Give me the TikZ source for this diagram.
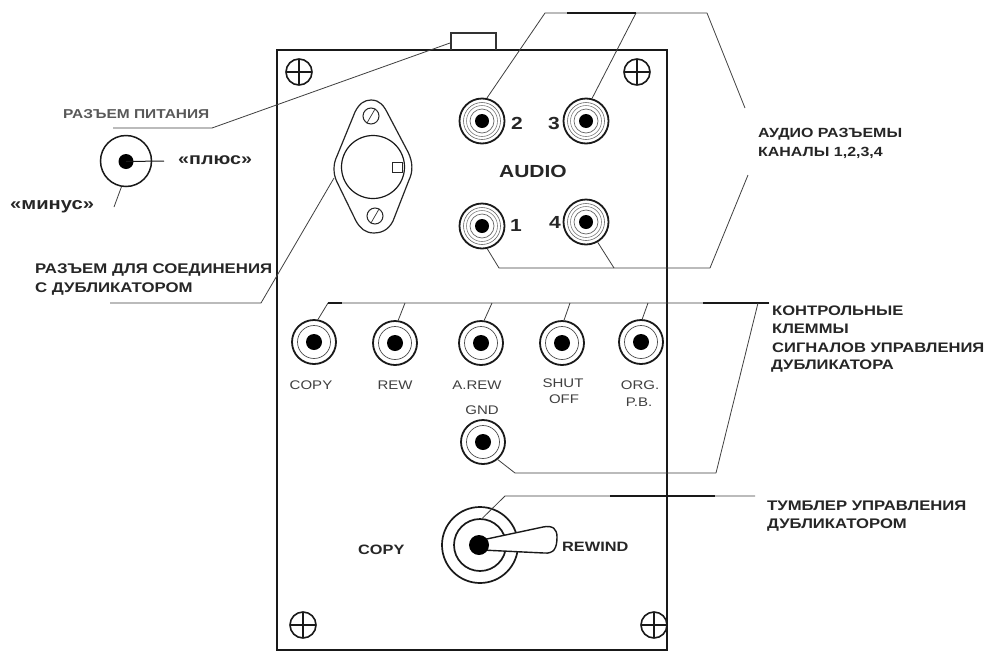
\documentclass[tikz,border=0pt]{standalone}
\usepackage{fontspec}
\setmainfont{Liberation Sans}
\newfontfamily\widef[FakeStretch=1.2]{Liberation Sans}
\newcommand{\fz}[1]{\fontsize{#1}{#1}\selectfont}
\tikzset{
  x=1pt,y=-1pt,
  panelline/.style={draw=black!90,line width=2.5pt},
  leader/.style={draw=black!75,line width=0.8pt,line join=round},
  heavy/.style={draw=black!90,line width=1.5pt},
  lab/.style={anchor=west,inner sep=0pt,font=\widef\bfseries\fz{13.3},text=black!85},
  tiny/.style={inner sep=0pt,font=\widef\fz{12.5},text=black!75},
  num/.style={inner sep=0pt,font=\widef\bfseries\fz{17.5},text=black!85},
  ring/.style={circle,inner sep=0pt,minimum size=45pt,draw=black!90,line width=1.8pt},
  jack/.style={circle,inner sep=0pt,minimum size=44pt,draw=black!90,line width=1.8pt},
}
\newcommand{\audiojack}[3]{%
  \node[ring] (#1) at (#2,#3) {};
  \draw[black!60,line width=0.6pt] (#2,#3) circle[radius=18.5];
  \draw[black!50,line width=0.6pt] (#2,#3) circle[radius=15.5];
  \draw[black!60,line width=0.7pt] (#2,#3) circle[radius=12];
  \fill[black] (#2,#3) circle[radius=7];
}
\newcommand{\ctljack}[3]{%
  \node[jack] (#1) at (#2,#3) {};
  \draw[black!70,line width=0.7pt] (#2,#3) circle[radius=16.5];
  \fill[black] (#2,#3) circle[radius=8];
}
\newcommand{\screw}[3]{%
  \node[circle,inner sep=0pt,minimum size=26pt,draw=black!90,line width=1.6pt] (#1) at (#2,#3) {};
  \draw[black!90,line width=1.2pt] ([xshift=2pt]#1.west) -- ([xshift=-2pt]#1.east) ([yshift=-2pt]#1.north) -- ([yshift=2pt]#1.south);
}
\begin{document}
\begin{tikzpicture}
\useasboundingbox (0,0) rectangle (990,651);
\fill[white] (0,0) rectangle (990,651);

% panel and tab
\coordinate (pTL) at (277,50); \coordinate (pTR) at (667,50);
\coordinate (pBL) at (277,650); \coordinate (pBR) at (667,650);
\draw[panelline] (pBL) -- (pTL) -- (pTR) -- (pBR) -- cycle;
\coordinate (tabA) at (451,50); \coordinate (tabB) at (451,33);
\coordinate (tabC) at (496,33); \coordinate (tabD) at (496,50);
\draw[draw=black!80,line width=1.2pt] (tabA) -- (tabB) -- (tabC) -- (tabD);

% screws
\screw{s1}{299}{72}
\screw{s2}{637}{72}
\screw{s3}{303}{625}
\screw{s4}{654}{625}

% power plug
\node[circle,inner sep=0pt,minimum size=51pt,draw=black!90,line width=1.5pt] (plug) at (126,161) {};
\node[circle,fill=black,inner sep=0pt,minimum size=15pt] (plugpin) at (126,161.5) {};
\coordinate (plusend) at (164,161);
\coordinate (minusend) at (114,207);
\draw[black!90,line width=1pt] (plugpin.center) -- (plusend);
\draw[leader] (plug.260) -- (minusend);
\node[lab,font=\widef\bfseries\fz{16.4}] (tplus) at (178,160) {«плюс»};
\node[lab,font=\widef\bfseries\fz{16.8}] (tminus) at (10,207) {«минус»};
\node[lab,font=\widef\bfseries\fz{12.9},text=black!65] (tpower) at (63,114) {РАЗЪЕМ ПИТАНИЯ};
\coordinate (pw0) at (450,43); \coordinate (pw1) at (212,128); \coordinate (pw2) at (113,128);
\draw[leader] (pw0) -- (pw1) -- (pw2);

% multi-pin connector
\draw[black!85,line width=1.2pt] (371,100) .. controls (380,100) and (384,106) .. (388,114)
  -- (408,152) .. controls (413,162) and (413,172) .. (409,180)
  -- (393,221) .. controls (388,231) and (380,233) .. (374,233)
  .. controls (365,233) and (360,228) .. (356,221)
  -- (337,182) .. controls (333,174) and (333,164) .. (337,156)
  -- (355,112) .. controls (359,104) and (364,100) .. (371,100) -- cycle;
\node[circle,inner sep=0pt,minimum size=63pt,draw=black!90,line width=1.2pt] (dub) at (373,167) {};
\node[draw=black!85,line width=0.9pt,fill=white,inner sep=0pt,minimum size=10pt] (dubkey) at (397,167) {};
\node[circle,inner sep=0pt,minimum size=16pt,draw=black!85,line width=1pt] (dubs1) at (371,116) {};
\node[circle,inner sep=0pt,minimum size=16pt,draw=black!85,line width=1pt] (dubs2) at (375,216) {};
\draw[black!80,line width=0.7pt] (dubs1.60) -- (dubs1.240) (dubs2.60) -- (dubs2.240);
\coordinate (dl0) at (334,178); \coordinate (dl1) at (261,303); \coordinate (dl2) at (110,303);
\draw[leader] (dl0) -- (dl1) -- (dl2);
\node[lab,font=\widef\bfseries\fz{14}] (tdub1) at (35,270) {РАЗЪЕМ ДЛЯ СОЕДИНЕНИЯ};
\node[lab,font=\widef\bfseries\fz{14}] (tdub2) at (35,289) {С ДУБЛИКАТОРОМ};

% audio jacks
\audiojack{a2}{482}{121}
\audiojack{a3}{586}{121}
\audiojack{a1}{482}{226}
\audiojack{a4}{586}{222}
\node[num] (n2) at (517,123) {2};
\node[num] (n3) at (554,123) {3};
\node[num] (n1) at (516,225) {1};
\node[num] (n4) at (555,222) {4};
\node[num] (taudio) at (533,171) {AUDIO};

\coordinate (at1) at (545,13); \coordinate (at2) at (707,13); \coordinate (at3) at (745,108);
\coordinate (at4) at (636,13); \coordinate (at5) at (567,13);
\draw[leader] (a2.78) -- (at1) -- (at2) -- (at3);
\draw[leader] (a3.75) -- (at4);
\draw[heavy] (at5) -- (at4);
\coordinate (ab1) at (499,268); \coordinate (ab2) at (710,268); \coordinate (ab3) at (748,175);
\coordinate (ab4) at (614,268);
\draw[leader] (a1.-77) -- (ab1) -- (ab2) -- (ab3);
\draw[leader] (a4.-60) -- (ab4);
\node[lab] (ta1) at (758,134) {АУДИО РАЗЪЕМЫ};
\node[lab] (ta2) at (758,153) {КАНАЛЫ 1,2,3,4};

% control jacks
\ctljack{c1}{314}{342}
\ctljack{c2}{395}{343}
\ctljack{c3}{481}{343}
\ctljack{c4}{562}{343}
\ctljack{c5}{641}{342}
\ctljack{c6}{483}{442}
\node[tiny] (l1) at (311,385) {COPY};
\node[tiny] (l2) at (395,385) {REW};
\node[tiny] (l3) at (477,385) {A.REW};
\node[tiny] (l4a) at (563,383) {SHUT};
\node[tiny] (l4b) at (564,399) {OFF};
\node[tiny] (l5a) at (640,385) {ORG.};
\node[tiny] (l5b) at (639,402) {P.B.};
\node[tiny] (l6) at (482,410) {GND};

\coordinate (ct0) at (328,303); \coordinate (ct1) at (342,303);
\coordinate (ct2) at (703,303); \coordinate (ct3) at (769,303);
\coordinate (ct4) at (405,303); \coordinate (ct5) at (492,303);
\coordinate (ct6) at (570,303); \coordinate (ct7) at (648,303);
\coordinate (ct8) at (758,303); \coordinate (cb1) at (515,473); \coordinate (cb2) at (716,473);
\draw[leader] (c1.80) -- (ct0) -- (ct3);
\draw[heavy] (ct0) -- (ct1);
\draw[heavy] (ct2) -- (ct3);
\draw[leader] (c2.82) -- (ct4);
\draw[leader] (c3.82) -- (ct5);
\draw[leader] (c4.85) -- (ct6);
\draw[leader] (c5.87) -- (ct7);
\draw[leader] (c6.-50) -- (cb1) -- (cb2) -- (ct8);
\node[lab,font=\widef\bfseries\fz{13.8}] (tc1) at (772,311) {КОНТРОЛЬНЫЕ};
\node[lab,font=\widef\bfseries\fz{13.8}] (tc2) at (772,329) {КЛЕММЫ};
\node[lab,font=\widef\bfseries\fz{13.8}] (tc3) at (772,348) {СИГНАЛОВ УПРАВЛЕНИЯ};
\node[lab,font=\widef\bfseries\fz{13.8}] (tc4) at (771,366) {ДУБЛИКАТОРА};

% toggle
\node[circle,inner sep=0pt,minimum size=76pt,draw=black!90,line width=1.7pt] (tog) at (480,545) {};
\node[circle,inner sep=0pt,minimum size=52pt,draw=black!90,line width=1.7pt] (togin) at (480,545) {};
\draw[black!90,fill=white,line width=1.4pt] (482,540) -- (543,527)
  .. controls (553,525) and (557,529) .. (557,537)
  .. controls (557,548) and (554,554) .. (544,553)
  -- (482,550) -- cycle;
\node[circle,fill=black,inner sep=0pt,minimum size=20pt] (togpin) at (479,545) {};
\coordinate (tg1) at (505,496); \coordinate (tg2) at (755,496);
\coordinate (tg3) at (610,496); \coordinate (tg4) at (715,496);
\draw[leader] (togin.85) -- (tg1) -- (tg2);
\draw[heavy] (tg3) -- (tg4);
\node[lab,font=\widef\bfseries\fz{13.6}] (trw) at (562,547) {REWIND};
\node[lab,font=\widef\bfseries\fz{13.6}] (tcp) at (358,550) {COPY};
\node[lab,font=\widef\bfseries\fz{13.9}] (tt1) at (767,506) {ТУМБЛЕР УПРАВЛЕНИЯ};
\node[lab,font=\widef\bfseries\fz{13.9}] (tt2) at (767,525) {ДУБЛИКАТОРОМ};
\end{tikzpicture}
\end{document}
